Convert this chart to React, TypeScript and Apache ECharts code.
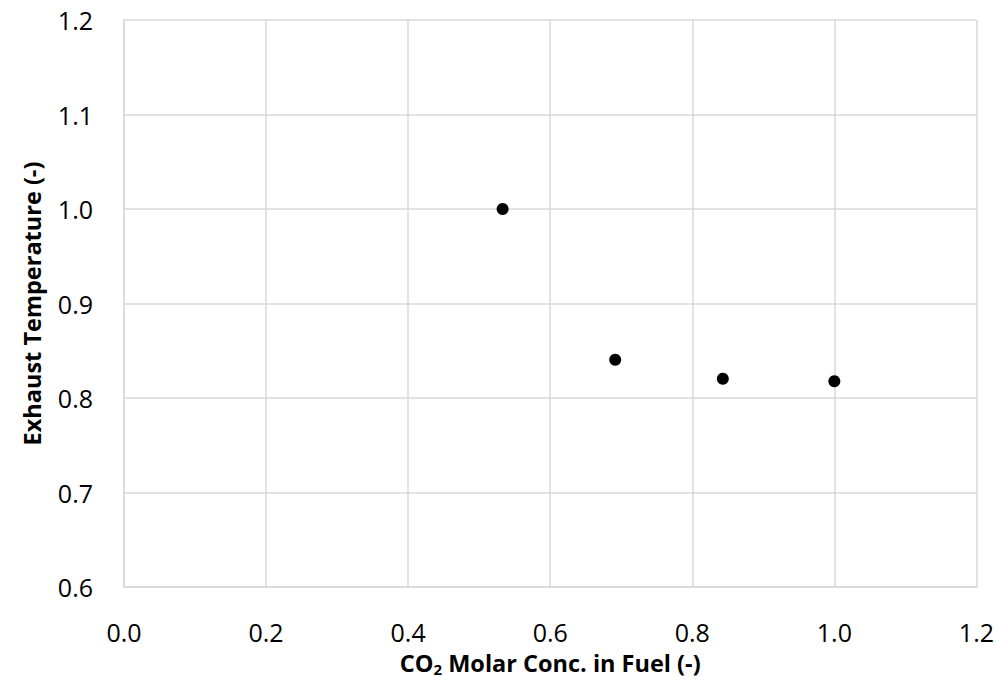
import React, { useEffect, useRef } from "react";
import * as echarts from "echarts";

const xValues = [0.533, 0.6915, 0.843, 1.0];
const yValues = [1.0, 0.8405, 0.8204, 0.8177];

const FONT = "'Open Sans', 'Liberation Sans', sans-serif";

export default function App() {
  const ref = useRef<HTMLDivElement>(null);
  useEffect(() => {
    if (!ref.current) return;
    const chart = echarts.init(ref.current, undefined, { renderer: "svg" });
    chart.setOption({
      animation: false,
      backgroundColor: "#ffffff",
      grid: { left: 124, right: 20, top: 20, bottom: 101, containLabel: false },
      xAxis: {
        type: "value",
        min: 0,
        max: 1.2,
        interval: 0.2,
        name: "{b|CO}{s|2}{b| Molar Conc. in Fuel (-)}",
        nameLocation: "middle",
        nameGap: 62,
        nameTextStyle: {
          rich: {
            b: { fontFamily: FONT, fontSize: 23.5, fontWeight: "bold", color: "#000" },
            s: { fontFamily: FONT, fontSize: 15, fontWeight: "bold", color: "#000", padding: [12, 0, 0, 0] },
          },
        },
        axisLine: { show: true, lineStyle: { color: "#d9d9d9", width: 1.5 } },
        axisTick: { show: false },
        splitLine: { show: true, lineStyle: { color: "#d9d9d9", width: 1.5 } },
        axisLabel: {
          fontFamily: FONT,
          fontSize: 25,
          color: "#000",
          margin: 32,
          formatter: (v: number) => v.toFixed(1),
        },
      },
      yAxis: {
        type: "value",
        min: 0.6,
        max: 1.2,
        interval: 0.1,
        name: "Exhaust Temperature (-)",
        nameLocation: "middle",
        nameGap: 80,
        nameTextStyle: { fontFamily: FONT, fontSize: 23.5, fontWeight: "bold", color: "#000" },
        axisLine: { show: true, lineStyle: { color: "#d9d9d9", width: 1.5 } },
        axisTick: { show: false },
        splitLine: { show: true, lineStyle: { color: "#d9d9d9", width: 1.5 } },
        axisLabel: {
          fontFamily: FONT,
          fontSize: 25,
          color: "#000",
          margin: 31,
          formatter: (v: number) => v.toFixed(1),
        },
      },
      series: [
        {
          type: "scatter",
          data: xValues.map((x, i) => [x, yValues[i]]),
          symbol: "circle",
          symbolSize: 12,
          itemStyle: { color: "#000000", opacity: 1 },
          emphasis: { disabled: true },
        },
      ],
    });
    return () => chart.dispose();
  }, []);
  return <div ref={ref} style={{ width: 997, height: 688, position: "absolute", left: 0, top: 0 }} />;
}
